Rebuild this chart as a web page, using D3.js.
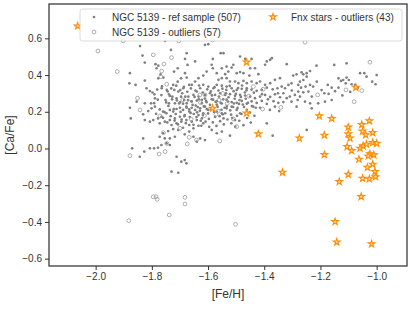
<!DOCTYPE html>
<html>
<head>
<meta charset="utf-8">
<script src="https://cdn.jsdelivr.net/npm/d3@7"></script>
<style>
  html, body { margin: 0; padding: 0; background: #fff; }
  svg { display: block; font-family: "Liberation Sans", Arial, sans-serif; }
</style>
</head>
<body>
<div id="chart"></div>
<script>
// [Fe/H], [Ca/Fe]
const refSample = [
  // upper left
  [-1.842,0.558],[-1.732,0.537],[-1.676,0.519],[-1.682,0.488],[-1.833,0.506],[-1.825,0.468],[-1.787,0.459],[-1.777,0.451],
  [-1.783,0.437],[-1.708,0.437],[-1.673,0.455],[-1.721,0.419],[-1.682,0.410],[-1.769,0.404],[-1.777,0.382],[-1.759,0.386],
  [-1.878,0.410],[-1.825,0.370],[-1.858,0.346],[-1.880,0.355],[-1.819,0.328],[-1.807,0.313],[-1.791,0.295],[-1.789,0.273],
  [-1.803,0.246],[-1.825,0.246],[-1.765,0.328],[-1.747,0.319],[-1.724,0.346],[-1.708,0.364],[-1.696,0.382],[-1.676,0.386],
  [-1.667,0.346],[-1.688,0.328],[-1.706,0.310],[-1.720,0.319],[-1.739,0.295],[-1.727,0.282],[-1.712,0.273],[-1.696,0.282],
  [-1.685,0.264],[-1.670,0.282],[-1.751,0.264],[-1.739,0.246],[-1.718,0.246],[-1.700,0.252],[-1.676,0.246],[-1.854,0.255],
  [-1.753,0.586],
  // upper middle
  [-1.611,0.564],[-1.599,0.568],[-1.555,0.519],[-1.545,0.519],[-1.583,0.488],[-1.646,0.474],[-1.587,0.456],[-1.583,0.437],
  [-1.605,0.419],[-1.617,0.397],[-1.634,0.383],[-1.646,0.365],[-1.658,0.347],[-1.551,0.437],[-1.534,0.446],[-1.516,0.441],
  [-1.510,0.456],[-1.486,0.501],[-1.468,0.488],[-1.445,0.488],[-1.450,0.437],[-1.433,0.437],[-1.421,0.405],[-1.397,0.456],
  [-1.391,0.474],[-1.379,0.483],[-1.373,0.492],[-1.453,0.397],[-1.474,0.410],[-1.486,0.416],[-1.498,0.410],[-1.528,0.419],
  [-1.539,0.405],[-1.569,0.410],[-1.563,0.374],[-1.551,0.383],[-1.534,0.383],[-1.522,0.365],[-1.504,0.365],[-1.492,0.356],
  [-1.474,0.368],[-1.462,0.356],[-1.445,0.365],[-1.427,0.356],[-1.415,0.365],[-1.397,0.347],[-1.379,0.356],[-1.362,0.374],
  [-1.344,0.383],[-1.338,0.337],[-1.353,0.328],[-1.370,0.322],[-1.391,0.331],[-1.409,0.319],[-1.427,0.314],[-1.445,0.321],
  [-1.462,0.328],[-1.480,0.325],[-1.498,0.319],[-1.516,0.328],[-1.534,0.337],[-1.551,0.342],[-1.569,0.347],[-1.581,0.328],
  [-1.599,0.337],[-1.617,0.347],[-1.628,0.328],[-1.640,0.310],[-1.652,0.292],[-1.634,0.283],[-1.611,0.292],[-1.593,0.301],
  [-1.575,0.292],[-1.557,0.301],[-1.539,0.292],[-1.522,0.296],[-1.504,0.287],[-1.486,0.292],[-1.468,0.288],[-1.450,0.283],
  [-1.433,0.274],[-1.415,0.283],[-1.397,0.292],[-1.379,0.281],[-1.362,0.295],[-1.344,0.279],[-1.332,0.301],[-1.658,0.256],
  [-1.640,0.261],[-1.622,0.265],[-1.605,0.252],[-1.587,0.268],[-1.569,0.257],[-1.551,0.245],[-1.534,0.266],[-1.516,0.253],
  [-1.498,0.249],[-1.480,0.259],[-1.462,0.244],[-1.445,0.257],[-1.427,0.248],[-1.409,0.259],[-1.391,0.243],[-1.367,0.258],
  [-1.350,0.249],[-1.332,0.253],
  // right band
  [-1.320,0.459],[-1.214,0.451],[-1.151,0.455],[-1.107,0.464],[-1.297,0.397],[-1.285,0.404],[-1.267,0.415],[-1.261,0.404],
  [-1.249,0.410],[-1.237,0.422],[-1.249,0.391],[-1.261,0.373],[-1.273,0.364],[-1.279,0.346],[-1.303,0.355],[-1.314,0.346],
  [-1.326,0.328],[-1.269,0.331],[-1.253,0.337],[-1.237,0.346],[-1.226,0.337],[-1.243,0.310],[-1.261,0.306],[-1.279,0.310],
  [-1.291,0.292],[-1.309,0.283],[-1.320,0.274],[-1.273,0.283],[-1.281,0.264],[-1.303,0.255],[-1.231,0.283],[-1.186,0.301],
  [-1.174,0.346],[-1.160,0.331],[-1.136,0.382],[-1.127,0.368],[-1.119,0.373],[-1.107,0.386],[-1.099,0.373],[-1.110,0.355],
  [-1.089,0.350],[-1.136,0.331],[-1.077,0.346],[-1.059,0.410],[-1.044,0.410],[-1.036,0.391],[-1.000,0.400],[-1.016,0.364],
  [-1.004,0.350],[-1.160,0.264],[-1.184,0.255],[-1.208,0.246],[-1.237,0.246],[-1.255,0.255],[-1.285,0.228],[-1.231,0.219],
  [-1.249,0.101],[-1.196,0.318],[-1.171,0.297],[-1.148,0.312],[-1.122,0.289],[-1.094,0.308],[-1.067,0.331],[-1.213,0.364],
  [-1.302,0.316],[-1.351,0.301],[-1.408,0.296],[-1.387,0.268],
  // lower left
  [-1.878,0.222],[-1.875,0.164],[-1.831,0.186],[-1.813,0.204],[-1.801,0.219],[-1.789,0.228],[-1.825,0.155],[-1.807,0.146],
  [-1.795,0.155],[-1.778,0.164],[-1.766,0.173],[-1.760,0.201],[-1.748,0.192],[-1.736,0.210],[-1.724,0.201],[-1.712,0.215],
  [-1.700,0.222],[-1.689,0.210],[-1.677,0.228],[-1.667,0.201],[-1.683,0.182],[-1.700,0.173],[-1.718,0.164],[-1.736,0.155],
  [-1.754,0.146],[-1.772,0.137],[-1.730,0.128],[-1.712,0.137],[-1.695,0.146],[-1.677,0.155],[-1.667,0.128],[-1.689,0.113],
  [-1.706,0.101],[-1.724,0.106],[-1.742,0.095],[-1.760,0.083],[-1.772,0.064],[-1.754,0.055],[-1.736,0.055],[-1.718,0.064],
  [-1.683,0.077],[-1.667,0.092],[-1.831,0.055],[-1.748,0.028],[-1.736,0.019],[-1.778,0.004],[-1.766,0.019],[-1.792,0.001],
  [-1.807,0.001],[-1.827,-0.017],[-1.870,0.001],[-1.843,-0.045],[-1.712,-0.045],[-1.695,-0.072],[-1.683,-0.063],[-1.677,-0.081],
  [-1.730,-0.126],[-1.706,-0.132],
  // lower middle
  [-1.658,0.222],[-1.646,0.210],[-1.628,0.219],[-1.611,0.228],[-1.599,0.210],[-1.617,0.192],[-1.634,0.182],[-1.622,0.164],
  [-1.640,0.155],[-1.658,0.146],[-1.652,0.110],[-1.634,0.124],[-1.617,0.137],[-1.569,0.201],[-1.551,0.192],[-1.545,0.164],
  [-1.534,0.219],[-1.516,0.228],[-1.498,0.210],[-1.486,0.192],[-1.504,0.155],[-1.439,0.228],[-1.391,0.137],[-1.370,0.070],
  [-1.522,0.070],[-1.551,0.092],[-1.569,0.083],[-1.587,0.101],[-1.611,0.046],[-1.628,0.055],[-1.640,0.037],[-1.652,0.064],
  [-1.380,0.210],[-1.362,0.228],[-1.347,0.204],[-1.415,0.222],
  // dense core
  [-1.741,0.232],[-1.728,0.268],[-1.715,0.188],[-1.703,0.245],[-1.692,0.301],[-1.684,0.176],[-1.676,0.222],[-1.671,0.263],
  [-1.662,0.194],[-1.655,0.238],[-1.648,0.281],[-1.641,0.171],[-1.637,0.226],[-1.629,0.205],[-1.622,0.247],[-1.618,0.183],
  [-1.611,0.272],[-1.604,0.214],[-1.597,0.161],[-1.593,0.238],[-1.586,0.289],[-1.579,0.199],[-1.573,0.254],[-1.566,0.228],
  [-1.559,0.176],[-1.552,0.211],[-1.546,0.268],[-1.539,0.192],[-1.533,0.231],[-1.527,0.279],[-1.521,0.208],[-1.514,0.166],
  [-1.508,0.245],[-1.501,0.297],[-1.495,0.221],[-1.488,0.264],[-1.481,0.188],[-1.476,0.239],[-1.469,0.305],[-1.462,0.211],
  [-1.755,0.198],[-1.749,0.251],[-1.736,0.286],[-1.722,0.214],[-1.711,0.262],[-1.698,0.199],[-1.689,0.244],[-1.681,0.282],
  [-1.667,0.213],[-1.659,0.257],[-1.651,0.188],[-1.644,0.234],[-1.633,0.268],[-1.626,0.151],[-1.615,0.229],[-1.607,0.259],
  [-1.600,0.191],[-1.589,0.217],[-1.582,0.266],[-1.575,0.172],[-1.569,0.239],[-1.561,0.283],[-1.555,0.248],[-1.548,0.186],
  [-1.541,0.222],[-1.536,0.301],[-1.529,0.256],[-1.518,0.184],[-1.511,0.226],[-1.505,0.271],[-1.497,0.178],[-1.490,0.243],
  [-1.483,0.281],[-1.472,0.226],[-1.466,0.271],[-1.458,0.249],[-1.451,0.196],[-1.444,0.231],[-1.437,0.304],[-1.430,0.222],
  [-1.792,0.247],[-1.785,0.189],[-1.779,0.266],[-1.772,0.213],[-1.766,0.291],[-1.760,0.167],[-1.745,0.142],[-1.733,0.176],
  [-1.719,0.152],[-1.707,0.131],[-1.694,0.158],[-1.679,0.138],[-1.665,0.171],[-1.652,0.129],[-1.639,0.197],[-1.624,0.124],
  [-1.609,0.146],[-1.596,0.118],[-1.583,0.142],[-1.570,0.123],[-1.557,0.149],[-1.544,0.131],[-1.531,0.158],[-1.517,0.137],
  [-1.503,0.119],[-1.489,0.151],[-1.474,0.127],[-1.461,0.166],[-1.448,0.141],[-1.435,0.178],
  [-1.798,0.305],[-1.781,0.321],[-1.764,0.338],[-1.744,0.311],[-1.731,0.327],[-1.713,0.342],[-1.699,0.318],[-1.686,0.336],
  [-1.674,0.309],[-1.661,0.327],[-1.645,0.316],[-1.632,0.343],[-1.619,0.305],[-1.603,0.322],[-1.590,0.311],[-1.577,0.334],
  [-1.563,0.316],[-1.549,0.326],[-1.535,0.319],[-1.523,0.341],[-1.509,0.312],[-1.493,0.329],[-1.479,0.343],[-1.463,0.317]
];

const ngcOutliers = [
  [-1.992,0.531],[-1.923,0.419],[-1.902,0.586],[-1.868,0.609],[-1.795,0.510],[-1.730,0.495],[-1.757,0.460],[-1.704,0.586],
  [-1.851,0.274],[-1.842,0.210],[-1.771,0.177],[-1.759,0.086],[-1.700,0.110],[-1.641,0.046],[-1.674,0.025],[-1.747,0.028],
  [-1.878,-0.039],[-1.774,-0.030],[-1.753,-0.017],[-1.629,0.292],[-1.765,0.422],[-1.768,0.391],[-1.747,0.350],[-1.584,0.591],
  [-1.404,0.323],[-1.439,0.337],[-1.341,0.224],[-1.406,0.215],[-1.558,0.041],[-1.498,0.119],[-1.510,0.161],[-1.255,0.579],
  [-1.024,0.470],[-1.109,0.319],[-1.053,0.315],[-1.080,0.255],[-1.210,0.292],[-1.613,0.179],[-1.561,0.264],[-1.564,0.204],
  [-1.572,0.186],[-1.502,-0.413],[-1.882,-0.393],[-1.795,-0.263],[-1.785,-0.263],[-1.781,-0.277],[-1.738,-0.362],[-1.682,-0.266],
  [-1.682,-0.302],[-1.611,0.292],[-1.667,0.061],[-1.627,0.250],[-1.690,0.265],[-1.548,0.300],[-1.455,0.285],[-1.532,0.245],
  [-1.660,0.160]
];

const fnxStars = [
  [-2.064,0.667],[-1.463,0.470],[-1.074,0.333],[-1.584,0.219],[-1.463,0.192],[-1.421,0.079],[-1.275,0.056],[-1.204,0.177],
  [-1.160,0.163],[-1.186,0.072],[-1.186,-0.034],[-1.101,0.116],[-1.053,0.130],[-1.026,0.150],[-1.101,0.079],[-1.095,0.056],
  [-1.050,0.094],[-1.039,0.074],[-1.014,0.086],[-1.105,0.010],[-1.089,-0.012],[-1.059,0.001],[-1.048,0.014],[-1.036,0.023],
  [-1.014,0.032],[-1.000,0.028],[-1.024,-0.030],[-1.010,-0.035],[-1.063,-0.059],[-1.030,-0.041],[-1.335,-0.130],[-1.101,-0.141],
  [-1.133,-0.181],[-1.033,-0.103],[-1.014,-0.086],[-1.006,-0.126],[-1.004,-0.154],[-1.050,-0.163],[-1.026,-0.166],[-1.055,-0.262],
  [-1.148,-0.399],[-1.142,-0.510],[-1.018,-0.520]
];

const xTicks = [-2.0, -1.8, -1.6, -1.4, -1.2, -1.0];
const yTicks = [-0.6, -0.4, -0.2, 0.0, 0.2, 0.4, 0.6];
const legendItems = [
  { label: "NGC 5139 - ref sample (507)", kind: "dot" },
  { label: "NGC 5139 - outliers (57)", kind: "ring" },
  { label: "Fnx stars - outliers (43)", kind: "star" }
];

const width = 419, height = 312;
const margin = { top: 4, right: 12, bottom: 46, left: 49 };
const axisColor = "#333";
const starColor = "#ff8c00";

const x = d3.scaleLinear().domain([-2.166, -0.892]).range([margin.left, width - margin.right]);
const y = d3.scaleLinear().domain([-0.640, 0.787]).range([height - margin.bottom, margin.top]);

const fmt = v => d3.format(".1f")(v).replace("-", "\u2212");
const star = d3.symbol().type(d3.symbolStar).size(14);

const svg = d3.select("#chart").append("svg")
  .attr("width", width)
  .attr("height", height);

// points
svg.append("g").selectAll("circle")
  .data(refSample)
  .enter().append("circle")
  .attr("cx", d => x(d[0]))
  .attr("cy", d => y(d[1]))
  .attr("r", 1.35)
  .attr("fill", "#808080");

svg.append("g").selectAll("circle")
  .data(ngcOutliers)
  .enter().append("circle")
  .attr("cx", d => x(d[0]))
  .attr("cy", d => y(d[1]))
  .attr("r", 1.9)
  .attr("fill", "none")
  .attr("stroke", "#9a9a9a")
  .attr("stroke-width", 0.8);

svg.append("g").selectAll("path")
  .data(fnxStars)
  .enter().append("path")
  .attr("d", star)
  .attr("transform", d => `translate(${x(d[0])},${y(d[1])})`)
  .attr("fill", "#ffe4bf")
  .attr("stroke", starColor)
  .attr("stroke-width", 1.1);

// axes
const xAxis = svg.append("g")
  .attr("transform", `translate(0,${height - margin.bottom})`)
  .call(d3.axisBottom(x).tickValues(xTicks).tickFormat(fmt).tickSize(4).tickPadding(3));

const yAxis = svg.append("g")
  .attr("transform", `translate(${margin.left},0)`)
  .call(d3.axisLeft(y).tickValues(yTicks).tickFormat(fmt).tickSize(4).tickPadding(3));

[xAxis, yAxis].forEach(a => {
  a.select(".domain").remove();
  a.selectAll("line").attr("stroke", axisColor).attr("stroke-width", 1);
  a.selectAll("text").attr("fill", axisColor).attr("font-size", 10)
    .attr("font-family", "Liberation Sans, Arial, sans-serif");
});

// frame
svg.append("rect")
  .attr("x", margin.left)
  .attr("y", margin.top)
  .attr("width", width - margin.left - margin.right)
  .attr("height", height - margin.top - margin.bottom)
  .attr("fill", "none")
  .attr("stroke", axisColor)
  .attr("stroke-width", 1.25);

// axis labels
svg.append("text")
  .attr("x", (margin.left + width - margin.right) / 2)
  .attr("y", 298)
  .attr("text-anchor", "middle")
  .attr("font-size", 12)
  .attr("fill", axisColor)
  .text("[Fe/H]");

svg.append("text")
  .attr("transform", `translate(14,${(margin.top + height - margin.bottom) / 2}) rotate(-90)`)
  .attr("text-anchor", "middle")
  .attr("font-size", 12)
  .attr("fill", axisColor)
  .text("[Ca/Fe]");

// legend
const lg = svg.append("g");
lg.append("rect")
  .attr("x", 80).attr("y", 9)
  .attr("width", 322).attr("height", 32)
  .attr("rx", 2.5)
  .attr("fill", "rgba(255,255,255,0.8)")
  .attr("stroke", "#d0d0d0")
  .attr("stroke-width", 0.8);

const legendPos = [[94, 17], [94, 32], [273, 17]];
legendItems.forEach((item, i) => {
  const [lx, ly] = legendPos[i];
  if (item.kind === "dot") {
    lg.append("circle").attr("cx", lx).attr("cy", ly).attr("r", 1.35).attr("fill", "#808080");
  } else if (item.kind === "ring") {
    lg.append("circle").attr("cx", lx).attr("cy", ly).attr("r", 1.9)
      .attr("fill", "none").attr("stroke", "#9a9a9a").attr("stroke-width", 0.8);
  } else {
    lg.append("path").attr("d", star).attr("transform", `translate(${lx},${ly})`)
      .attr("fill", "#ffe4bf").attr("stroke", starColor).attr("stroke-width", 1.1);
  }
  lg.append("text")
    .attr("x", lx + 18)
    .attr("y", ly)
    .attr("dy", "0.35em")
    .attr("font-size", 10)
    .attr("fill", axisColor)
    .text(item.label);
});
</script>
</body>
</html>
